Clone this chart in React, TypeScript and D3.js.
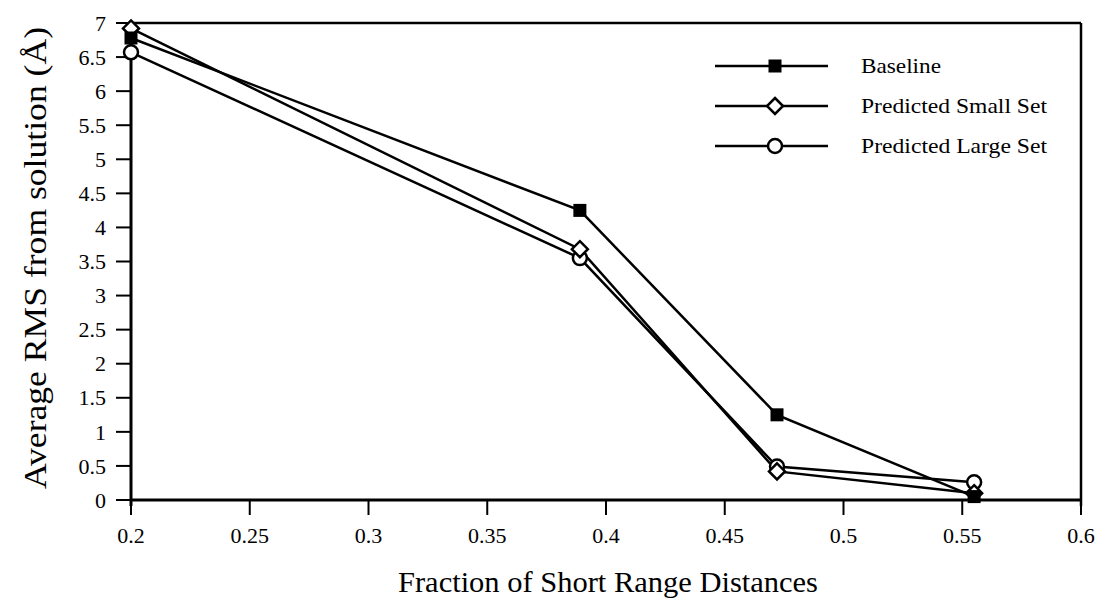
import React from "react";
import * as d3 from "d3";

const xValues = [0.2, 0.389, 0.472, 0.555];
const baseline = [6.78, 4.25, 1.25, 0.05];
const smallSet = [6.92, 3.68, 0.42, 0.1];
const largeSet = [6.57, 3.55, 0.49, 0.26];
const xTicks = [0.2, 0.25, 0.3, 0.35, 0.4, 0.45, 0.5, 0.55, 0.6];
const yTicks = [0, 0.5, 1, 1.5, 2, 2.5, 3, 3.5, 4, 4.5, 5, 5.5, 6, 6.5, 7];
const seriesNames = ["Baseline", "Predicted Small Set", "Predicted Large Set"];

const W = 1096, H = 606;
const left = 131, right = 1081, top = 23, bottom = 500;
const font = "'Liberation Serif', 'Times New Roman', serif";

function Marker({ kind, x, y }: { kind: number; x: number; y: number }) {
  if (kind === 0) return <rect x={x - 6.5} y={y - 6.5} width={13} height={13} fill="#000" />;
  if (kind === 1)
    return (
      <path
        d={`M${x},${y - 8}L${x + 8},${y}L${x},${y + 8}L${x - 8},${y}Z`}
        fill="#fff"
        stroke="#000"
        strokeWidth={2.5}
      />
    );
  return <circle cx={x} cy={y} r={7} fill="#fff" stroke="#000" strokeWidth={2.5} />;
}

export default function App() {
  const x = d3.scaleLinear().domain([0.2, 0.6]).range([left, right]);
  const y = d3.scaleLinear().domain([0, 7]).range([bottom, top]);
  const line = d3
    .line<[number, number]>()
    .x((d) => x(d[0]))
    .y((d) => y(d[1]));
  const series = [baseline, smallSet, largeSet];
  const drawOrder = [2, 1, 0];
  const legendLen = [80, 186, 186];
  return (
    <svg width={W} height={H} style={{ position: "absolute", left: 0, top: 0, background: "#fff" }}>
      <rect width={W} height={H} fill="#fff" />
      <line x1={left} y1={top} x2={right} y2={top} stroke="#000" strokeWidth={2.5} />
      <line x1={right} y1={top} x2={right} y2={bottom + 6} stroke="#000" strokeWidth={2.5} />
      <line x1={left} y1={top} x2={left} y2={bottom + 6} stroke="#000" strokeWidth={3} />
      <line x1={left - 1} y1={bottom} x2={right} y2={bottom} stroke="#000" strokeWidth={3} />
      {yTicks.map((t) => (
        <g key={"y" + t}>
          <line x1={left - 15} x2={left} y1={y(t)} y2={y(t)} stroke="#000" strokeWidth={2} />
          <text
            x={left - 25}
            y={y(t)}
            dy="0.35em"
            textAnchor="end"
            fontFamily={font}
            fontSize={22}
          >
            {t}
          </text>
        </g>
      ))}
      {xTicks.map((t) => (
        <g key={"x" + t}>
          <line x1={x(t)} x2={x(t)} y1={bottom} y2={bottom + 15} stroke="#000" strokeWidth={2} />
          <text x={x(t)} y={bottom + 43} textAnchor="middle" fontFamily={font} fontSize={22}>
            {t}
          </text>
        </g>
      ))}
      <text
        transform={`translate(46,258) rotate(-90)`}
        textAnchor="middle"
        fontFamily={font}
        fontSize={31}
        textLength={462}
        lengthAdjust="spacingAndGlyphs"
      >
        Average RMS from solution (Å)
      </text>
      <text
        x={608}
        y={592}
        textAnchor="middle"
        fontFamily={font}
        fontSize={29}
        textLength={420}
        lengthAdjust="spacingAndGlyphs"
      >
        Fraction of Short Range Distances
      </text>
      {drawOrder.map((i) => (
        <path
          key={"l" + i}
          d={line(xValues.map((v, j) => [v, series[i][j]] as [number, number])) || ""}
          fill="none"
          stroke="#000"
          strokeWidth={2.5}
        />
      ))}
      {drawOrder.map((i) =>
        xValues.map((v, j) => <Marker key={`m${i}-${j}`} kind={i} x={x(v)} y={y(series[i][j])} />)
      )}
      {seriesNames.map((name, i) => {
        const ly = 66 + i * 40;
        return (
          <g key={name}>
            <line x1={715} x2={828} y1={ly} y2={ly} stroke="#000" strokeWidth={2.5} />
            <Marker kind={i} x={775} y={ly} />
            <text
              x={861}
              y={ly}
              dy="0.35em"
              fontFamily={font}
              fontSize={21}
              textLength={legendLen[i]}
              lengthAdjust="spacingAndGlyphs"
            >
              {name}
            </text>
          </g>
        );
      })}
    </svg>
  );
}
